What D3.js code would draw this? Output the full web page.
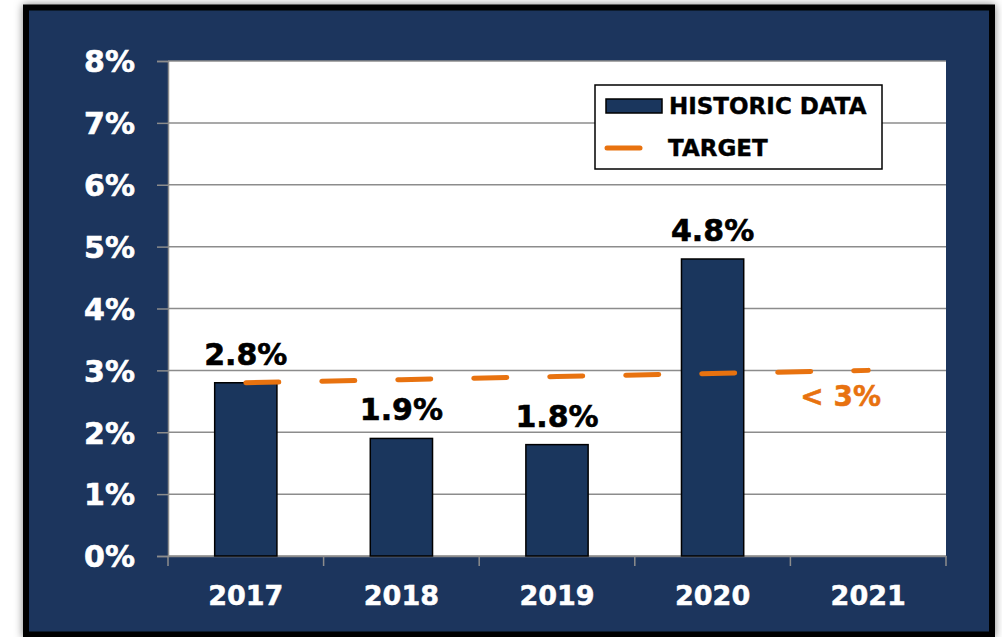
<!DOCTYPE html>
<html>
<head>
<meta charset="utf-8">
<script src="https://cdn.jsdelivr.net/npm/d3@7"></script>
<style>
  body { margin: 0; background: #fff; }
  text { font-family: 'DejaVu Sans', sans-serif; font-weight: bold; }
</style>
</head>
<body>
<div id="chart"></div>
<script>
const years = ['2017', '2018', '2019', '2020', '2021']
const historic = [2.8, 1.9, 1.8, 4.8, null]
const target = [2.8, 2.85, 2.9, 2.95, 3.0]
const yTicks = [0, 1, 2, 3, 4, 5, 6, 7, 8]
const legendLabels = ['HISTORIC DATA', 'TARGET']
const targetLabel = '< 3%'

const navy = '#1a365d'
const orange = '#e8720f'

let width = 1002
let height = 637
let margin = { top: 61, left: 168, right: 56, bottom: 81 }

let svg = d3
  .select('#chart')
  .append('svg')
  .attr('width', width)
  .attr('height', height)

// drop shadow for the frame
let defs = svg.append('defs')
let filter = defs.append('filter').attr('id', 'shadow')
  .attr('x', '-5%').attr('y', '-5%').attr('width', '110%').attr('height', '110%')
filter.append('feDropShadow')
  .attr('dx', 0).attr('dy', 0).attr('stdDeviation', 4)
  .attr('flood-color', '#000').attr('flood-opacity', 0.5)

// outer frame
svg.append('rect')
  .attr('x', 26).attr('y', 7.5)
  .attr('width', 966).attr('height', 627)
  .attr('fill', navy)
  .attr('stroke', '#000')
  .attr('stroke-width', 6)
  .attr('filter', 'url(#shadow)')

let w = width - margin.left - margin.right
let h = height - margin.top - margin.bottom

let g = svg.append('g')
  .attr('transform', `translate(${margin.left}, ${margin.top})`)

let x = d3.scaleBand()
  .domain(years)
  .range([0, w])
  .paddingInner(0.6)
  .paddingOuter(0.3)

let y = d3.scaleLinear()
  .domain([0, 8])
  .range([h, 0])

// plot area
g.append('rect')
  .attr('width', w).attr('height', h)
  .attr('fill', '#fff')

// gridlines
g.append('g')
  .selectAll('line')
  .data(yTicks)
  .enter()
  .append('line')
  .attr('x1', 0).attr('x2', w)
  .attr('y1', d => y(d)).attr('y2', d => y(d))
  .attr('stroke', '#8c8c8c')
  .attr('stroke-width', 1.5)

// y axis
let yAxis = g.append('g')
  .call(d3.axisLeft(y).tickValues(yTicks).tickSize(11).tickPadding(22).tickFormat(d => d + '%'))
yAxis.select('.domain').attr('stroke', '#8c8c8c').attr('stroke-width', 1.5)
yAxis.selectAll('.tick line').attr('stroke', '#8c8c8c').attr('stroke-width', 1.5)
yAxis.selectAll('.tick text')
  .attr('fill', '#fff')
  .attr('stroke', '#fff')
  .attr('stroke-width', 0.6)
  .attr('font-size', 30)
  .attr('dy', '0.36em')

// x axis: boundary ticks
let step = x.step()
let bounds = d3.range(years.length + 1).map(i => i * step)
g.append('g')
  .selectAll('line')
  .data(bounds)
  .enter()
  .append('line')
  .attr('x1', d => d).attr('x2', d => d)
  .attr('y1', h).attr('y2', h + 10)
  .attr('stroke', '#8c8c8c')
  .attr('stroke-width', 1.5)

let xAxis = g.append('g')
  .attr('transform', `translate(0, ${h})`)
  .call(d3.axisBottom(x).tickSize(0).tickPadding(0))
xAxis.select('.domain').attr('stroke', '#8c8c8c').attr('stroke-width', 1.5)
xAxis.selectAll('.tick text')
  .attr('fill', '#fff')
  .attr('stroke', '#fff')
  .attr('stroke-width', 0.5)
  .attr('font-size', 27)
  .attr('y', 49)
  .attr('dy', 0)

// bars
let barData = years.map((d, i) => ({ year: d, value: historic[i] })).filter(d => d.value != null)

g.append('g')
  .selectAll('.bar')
  .data(barData)
  .enter()
  .append('rect')
  .attr('class', 'bar')
  .attr('x', d => x(d.year))
  .attr('y', d => y(d.value))
  .attr('width', x.bandwidth())
  .attr('height', d => h - y(d.value))
  .attr('fill', navy)
  .attr('stroke', '#000')
  .attr('stroke-width', 1.5)

// bar labels
g.append('g')
  .selectAll('.bar-label')
  .data(barData)
  .enter()
  .append('text')
  .attr('class', 'bar-label')
  .attr('x', d => x(d.year) + x.bandwidth() / 2)
  .attr('y', d => y(d.value) - 18)
  .attr('text-anchor', 'middle')
  .attr('font-size', 30)
  .attr('fill', '#000')
  .attr('stroke', '#000')
  .attr('stroke-width', 0.6)
  .text(d => d.value.toFixed(1) + '%')

// target line
let line = d3.line()
  .x((d, i) => x(years[i]) + x.bandwidth() / 2)
  .y(d => y(d))

g.append('path')
  .datum(target)
  .attr('d', line)
  .attr('fill', 'none')
  .attr('stroke', orange)
  .attr('stroke-width', 5)
  .attr('stroke-linecap', 'round')
  .attr('stroke-dasharray', '33 43')

g.append('text')
  .attr('x', x('2021') + x.bandwidth() / 2 - 68)
  .attr('y', y(target[4]) + 36)
  .attr('text-anchor', 'start')
  .attr('font-size', 28)
  .attr('fill', orange)
  .attr('stroke', orange)
  .attr('stroke-width', 0.5)
  .text(targetLabel)

// legend
let legend = svg.append('g').attr('transform', 'translate(595, 85)')
legend.append('rect')
  .attr('width', 287).attr('height', 84)
  .attr('fill', '#fff')
  .attr('stroke', '#000')
  .attr('stroke-width', 1.5)
legend.append('rect')
  .attr('x', 11).attr('y', 14)
  .attr('width', 56).attr('height', 14)
  .attr('fill', navy)
  .attr('stroke', '#000')
  .attr('stroke-width', 1.5)
legend.append('line')
  .attr('x1', 12).attr('x2', 45)
  .attr('y1', 63).attr('y2', 63)
  .attr('stroke', orange)
  .attr('stroke-width', 5)
  .attr('stroke-linecap', 'round')
legend.selectAll('.legend-label')
  .data(legendLabels)
  .enter()
  .append('text')
  .attr('class', 'legend-label')
  .attr('x', (d, i) => (i === 0 ? 74 : 73))
  .attr('y', (d, i) => (i === 0 ? 29 : 71))
  .attr('font-size', 23)
  .attr('fill', '#000')
  .attr('stroke', '#000')
  .attr('stroke-width', 0.4)
  .text(d => d)
</script>
</body>
</html>
